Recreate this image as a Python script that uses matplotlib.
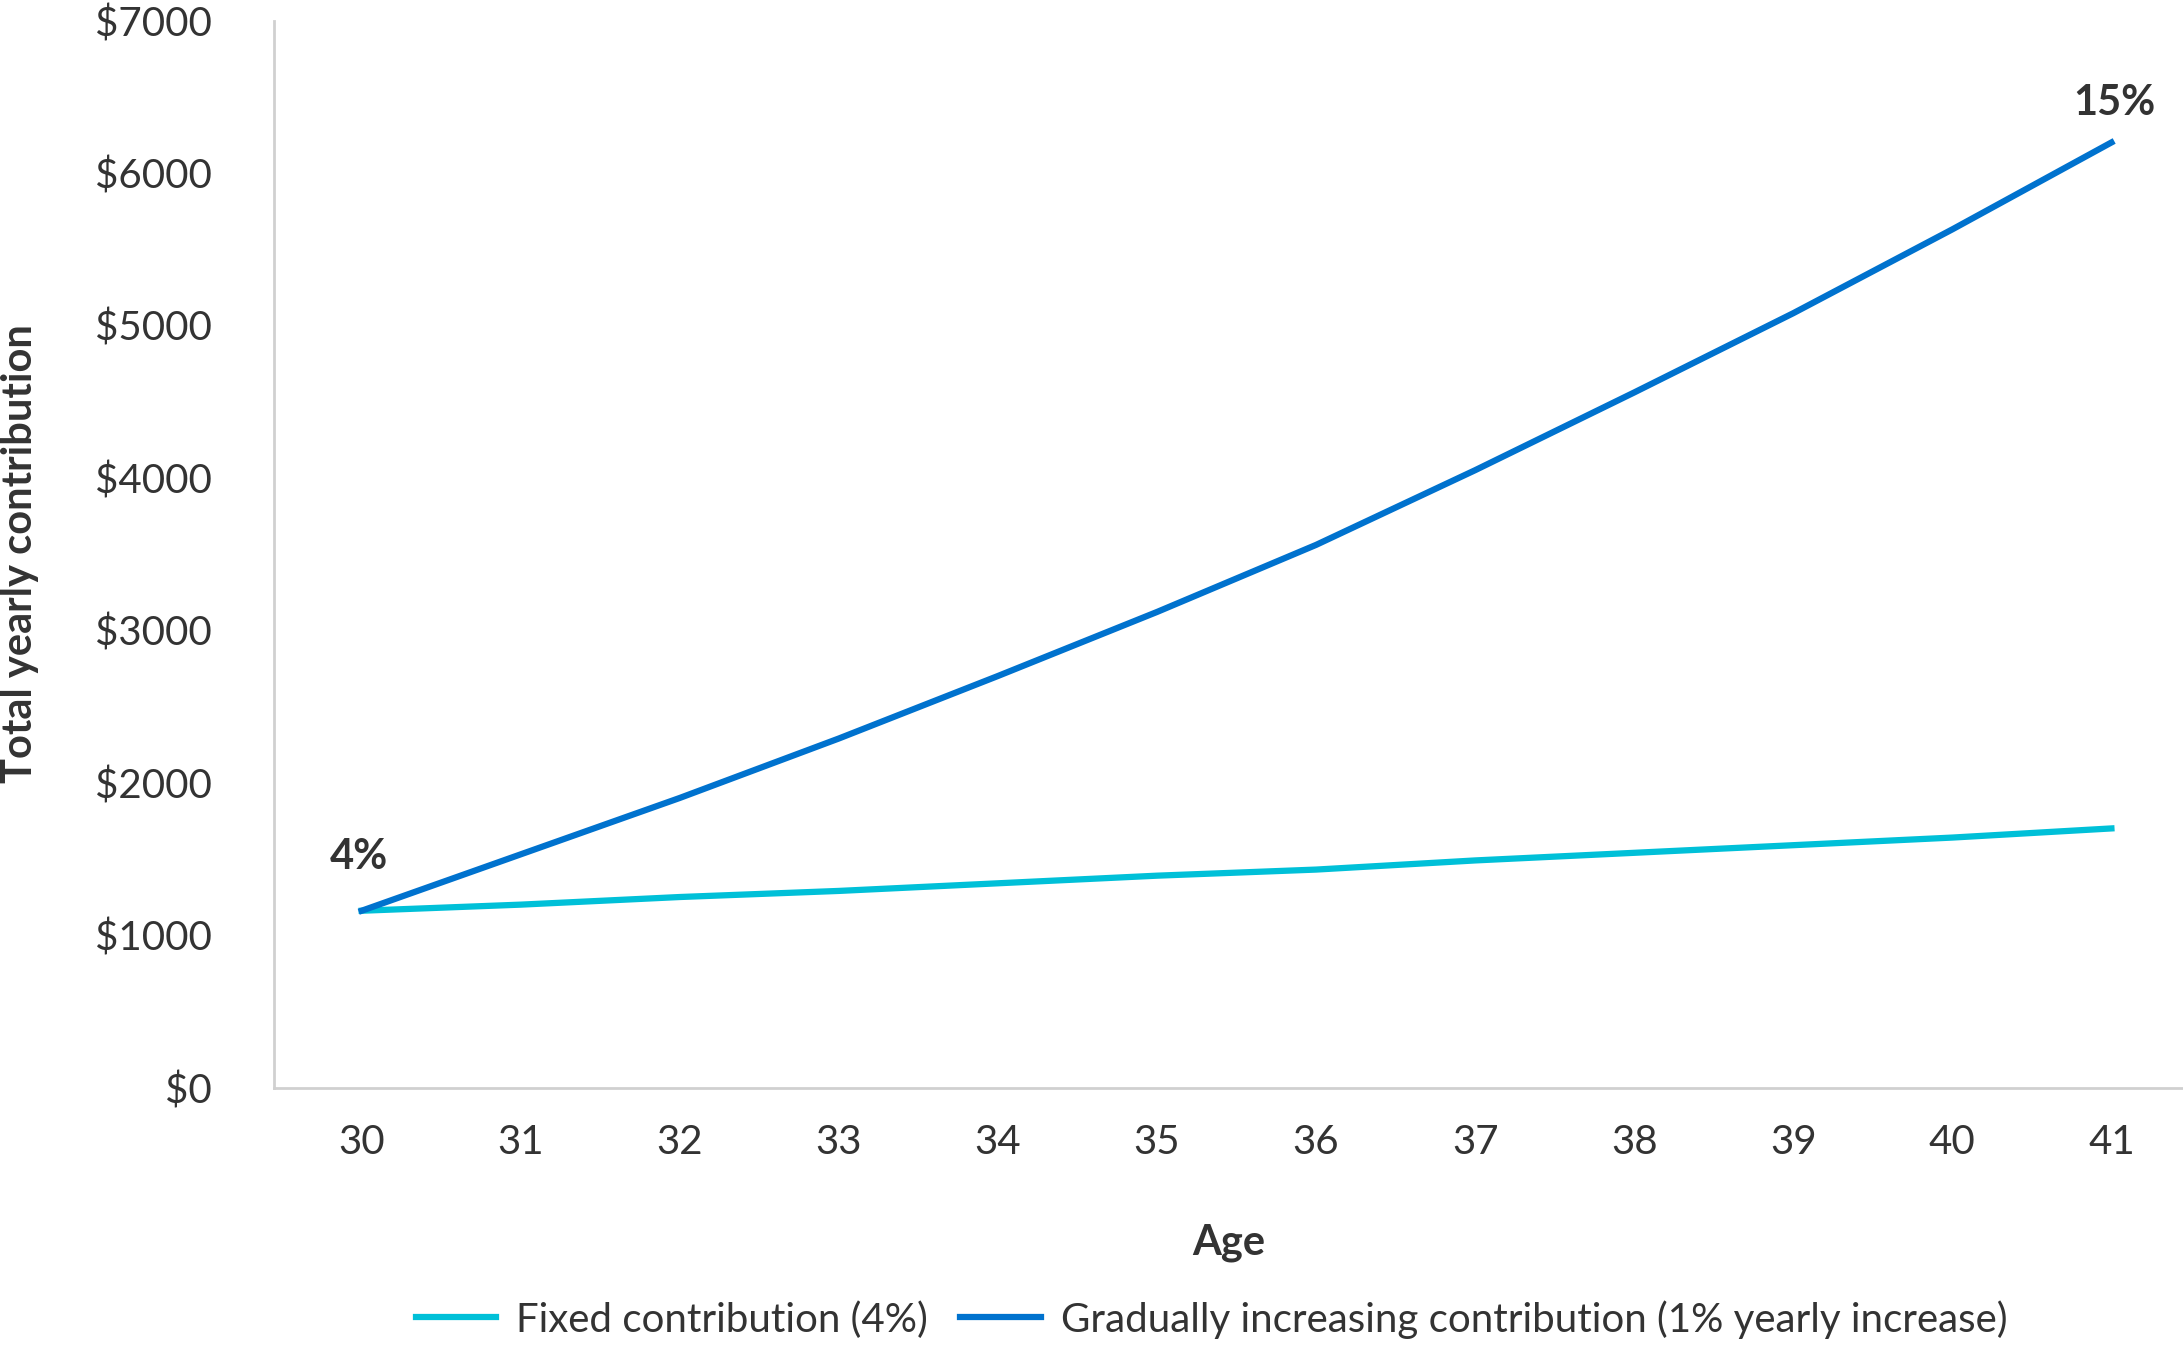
import matplotlib.pyplot as plt

ages = [30, 31, 32, 33, 34, 35, 36, 37, 38, 39, 40, 41]
fixed = [1160, 1200, 1250, 1290, 1340, 1390, 1430, 1490, 1540, 1590, 1640, 1700]
gradual = [1160, 1530, 1900, 2290, 2700, 3120, 3560, 4050, 4560, 5080, 5630, 6200]
yticks = [0, 1000, 2000, 3000, 4000, 5000, 6000, 7000]

plt.rcParams['font.family'] = 'Lato'
fig = plt.figure(figsize=(21.83, 13.68), dpi=100)
ax = fig.add_axes([0.1256, 0.205, 0.8744, 0.78])

ax.plot(ages, fixed, color='#00c0d8', lw=4.5, label='Fixed contribution (4%)')
ax.plot(ages, gradual, color='#0072ce', lw=4.5,
        label='Gradually increasing contribution (1% yearly increase)')

ax.set_xlim(29.45, 41.45)
ax.set_ylim(0, 7000)
ax.set_xticks(ages)
ax.set_yticks(yticks)
ax.set_yticklabels([f'${v}' for v in yticks])
ax.tick_params(length=0, labelsize=29, colors='#333333', pad=26)
ax.tick_params(axis='y', pad=45)
for s in ['top', 'right']:
    ax.spines[s].set_visible(False)
for s in ['left', 'bottom']:
    ax.spines[s].set_color('#d0d0d0')
    ax.spines[s].set_linewidth(2)

ax.set_xlabel('Age', fontsize=30, fontweight='bold', color='#333333', labelpad=45)
ax.set_ylabel('Total yearly contribution', fontsize=30, fontweight='bold',
              color='#333333', labelpad=40)

ax.annotate('4%', (ages[0], gradual[0]), xytext=(-2, 30), textcoords='offset points',
            ha='center', fontsize=30, fontweight='bold', color='#333333')
ax.annotate('15%', (ages[-1], gradual[-1]), xytext=(2, 20), textcoords='offset points',
            ha='center', fontsize=30, fontweight='bold', color='#333333')

fig.legend(loc='lower center', bbox_to_anchor=(0.555, -0.005), ncol=2, frameon=False,
           fontsize=29, handlelength=2.0, handletextpad=0.5, columnspacing=0.8,
           labelcolor='#333333')

fig.savefig('out.png', dpi=100)
